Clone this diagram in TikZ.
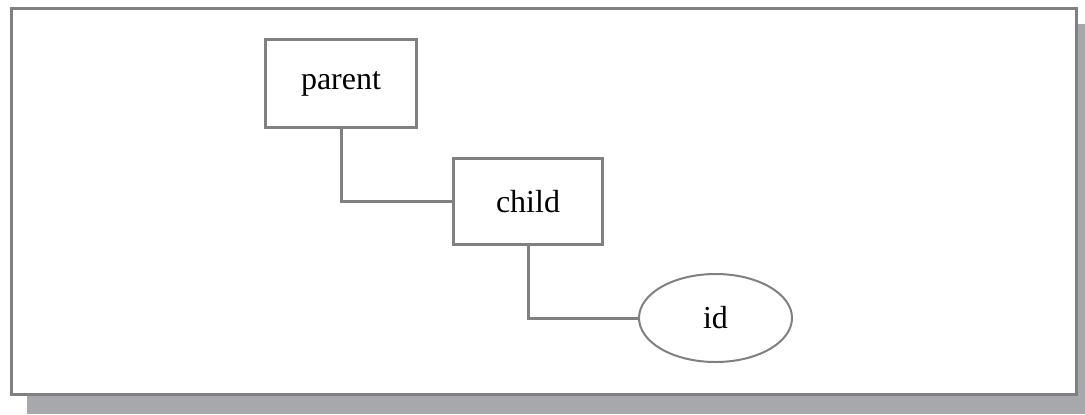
\documentclass[tikz,border=0pt]{standalone}
\usepackage{fontspec}
\setmainfont{Liberation Serif}
\usepackage{xcolor}
\usetikzlibrary{positioning,shapes.geometric}
\definecolor{linegray}{RGB}{128,128,131}
\definecolor{shadowgray}{RGB}{167,168,171}
\tikzset{
  entity/.style={draw=linegray, line width=1.5pt, minimum width=74.5pt,
                 minimum height=43pt, inner sep=0pt, font=\fontsize{16}{19}\selectfont},
  attr/.style={draw=linegray, ellipse, line width=1pt, minimum width=76.5pt,
               minimum height=44pt, inner sep=0pt, font=\fontsize{16}{19}\selectfont},
  link/.style={draw=linegray, line width=1.5pt},
}

\begin{document}
\begin{tikzpicture}[x=0.5pt, y=-0.5pt]
  \useasboundingbox (0,0) rectangle (1085,414);
  % Frame
  \fill[shadowgray] (27,24) rectangle (1085,414);
  \draw[linegray, line width=1.5pt, fill=white] (11.5,8.5) rectangle (1076.5,394.5);
  % Tree
  \node[entity, minimum width=75.5pt, minimum height=44pt] (parent) at (341,83.5) {parent};
  \node[entity, below right=14pt and 17pt of parent] (child) {child};
  \node[attr, below right=36pt and 17pt of child.south east, anchor=west] (id) {id};
  \draw[link] (parent.south) |- (child.west);
  \draw[link] (child.south) |- (id.west);
\end{tikzpicture}
\end{document}
